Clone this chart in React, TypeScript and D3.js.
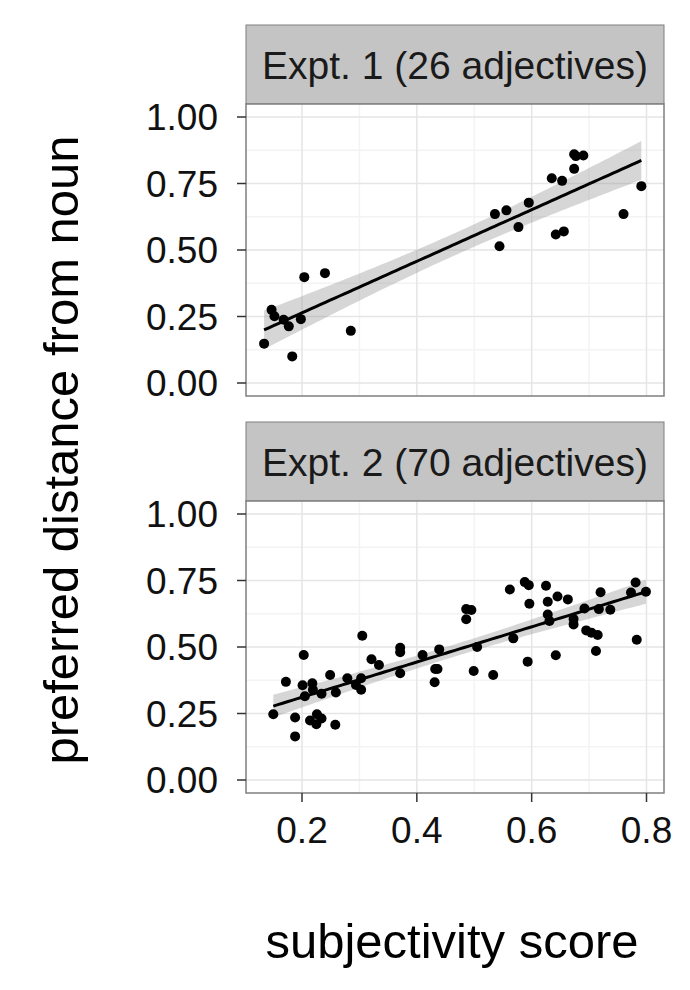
import React from 'react';
import * as d3 from 'd3';

type Pt = [number, number];

const panelTitles = ['Expt. 1 (26 adjectives)', 'Expt. 2 (70 adjectives)'];

const expt1: Pt[] = [
  [0.134, 0.148], [0.147, 0.275], [0.152, 0.251], [0.168, 0.238], [0.177, 0.213],
  [0.183, 0.1], [0.198, 0.24], [0.204, 0.398], [0.24, 0.413], [0.285, 0.196],
  [0.536, 0.635], [0.544, 0.514], [0.556, 0.649], [0.577, 0.586], [0.595, 0.678],
  [0.635, 0.77], [0.642, 0.558], [0.653, 0.76], [0.656, 0.57], [0.674, 0.86],
  [0.674, 0.805], [0.677, 0.853], [0.69, 0.855], [0.76, 0.635], [0.791, 0.74],
];

const expt2: Pt[] = [
  [0.15, 0.2475], [0.172, 0.369], [0.188, 0.235], [0.188, 0.164], [0.203, 0.47],
  [0.201, 0.356], [0.205, 0.315], [0.218, 0.364], [0.219, 0.339], [0.214, 0.224],
  [0.226, 0.2475], [0.225, 0.21], [0.234, 0.231], [0.234, 0.324], [0.249, 0.395],
  [0.259, 0.329], [0.279, 0.3825], [0.294, 0.3575], [0.303, 0.3825], [0.303, 0.339],
  [0.258, 0.2075], [0.305, 0.5425], [0.321, 0.454], [0.334, 0.4325], [0.371, 0.4975],
  [0.371, 0.48], [0.371, 0.401], [0.41, 0.47], [0.432, 0.4175], [0.436, 0.4175],
  [0.431, 0.3675], [0.439, 0.491], [0.486, 0.6425], [0.495, 0.639], [0.486, 0.604],
  [0.499, 0.41], [0.505, 0.5], [0.533, 0.395], [0.562, 0.716], [0.568, 0.5325],
  [0.588, 0.744], [0.595, 0.7325], [0.596, 0.6625], [0.593, 0.445], [0.625, 0.73],
  [0.628, 0.67], [0.628, 0.6225], [0.631, 0.5975], [0.642, 0.469], [0.645, 0.69],
  [0.663, 0.679], [0.673, 0.605], [0.673, 0.585], [0.692, 0.645], [0.695, 0.5625],
  [0.704, 0.554], [0.715, 0.545], [0.712, 0.485], [0.717, 0.6425], [0.72, 0.706],
  [0.737, 0.64], [0.773, 0.705], [0.781, 0.7425], [0.783, 0.5275], [0.799, 0.7075],
];

const xTicks = [0.2, 0.4, 0.6, 0.8];
const yTicks = [0, 0.25, 0.5, 0.75, 1];

const FONT = '"Liberation Sans", Arial, sans-serif';

function fit(data: Pt[]) {
  const n = data.length;
  const mx = d3.mean(data, d => d[0])!;
  const my = d3.mean(data, d => d[1])!;
  const sxx = d3.sum(data, d => (d[0] - mx) ** 2);
  const sxy = d3.sum(data, d => (d[0] - mx) * (d[1] - my));
  const b = sxy / sxx;
  const a = my - b * mx;
  const sse = d3.sum(data, d => (d[1] - a - b * d[0]) ** 2);
  const s = Math.sqrt(sse / (n - 2));
  const t = 2.06;
  const [x0, x1] = d3.extent(data, d => d[0]) as [number, number];
  const xs = d3.range(0, 81).map(i => x0 + ((x1 - x0) * i) / 80);
  return xs.map(x => {
    const y = a + b * x;
    const se = s * Math.sqrt(1 / n + (x - mx) ** 2 / sxx);
    return { x, y, lo: y - t * se, hi: y + t * se };
  });
}

const left = 246, right = 664;
const x = d3.scaleLinear().domain([0.2, 0.8]).range([302, 646.5]);

const Panel: React.FC<{ data: Pt[]; title: string; top: number; showX: boolean }> = ({ data, title, top, showX }) => {
  const stripH = 79;
  const pTop = top + stripH;
  const pBot = pTop + 292;
  const y = d3.scaleLinear().domain([0, 1]).range([pTop + 279, pTop + 13]);
  const f = fit(data);
  const area = d3.area<any>().x(d => x(d.x)).y0(d => y(d.lo)).y1(d => y(d.hi));
  const line = d3.line<any>().x(d => x(d.x)).y(d => y(d.y));
  const minorX = [0.1, 0.3, 0.5, 0.7];
  const minorY = [0.125, 0.375, 0.625, 0.875];
  return (
    <g>
      <rect x={left} y={top} width={right - left} height={stripH} fill="#c4c4c4" stroke="#7f7f7f" strokeWidth={1} />
      <text x={(left + right) / 2} y={top + stripH / 2 + 14} textAnchor="middle" fontSize={39} fontFamily={FONT} fill="#1a1a1a">{title}</text>
      <rect x={left} y={pTop} width={right - left} height={pBot - pTop} fill="#fff" />
      {minorX.map(v => x(v) > left && <line key={'mx' + v} x1={x(v)} x2={x(v)} y1={pTop} y2={pBot} stroke="#f3f3f3" strokeWidth={1.5} />)}
      {minorY.map(v => <line key={'my' + v} x1={left} x2={right} y1={y(v)} y2={y(v)} stroke="#f3f3f3" strokeWidth={1.5} />)}
      {xTicks.map(v => <line key={'gx' + v} x1={x(v)} x2={x(v)} y1={pTop} y2={pBot} stroke="#e5e5e5" strokeWidth={1.5} />)}
      {yTicks.map(v => <line key={'gy' + v} x1={left} x2={right} y1={y(v)} y2={y(v)} stroke="#e5e5e5" strokeWidth={1.5} />)}
      <path d={area(f)!} fill="#999" fillOpacity={0.4} />
      <path d={line(f)!} fill="none" stroke="#000" strokeWidth={3} />
      {data.map((d, i) => <circle key={i} cx={x(d[0])} cy={y(d[1])} r={5} fill="#000" />)}
      <rect x={left} y={pTop} width={right - left} height={pBot - pTop} fill="none" stroke="#7f7f7f" strokeWidth={1.5} />
      {yTicks.map(v => (
        <g key={'ty' + v}>
          <line x1={left - 9} x2={left} y1={y(v)} y2={y(v)} stroke="#333" strokeWidth={1.5} />
          <text x={left - 28} y={y(v) + 13} textAnchor="end" fontSize={37} fontFamily={FONT} fill="#111">{v.toFixed(2)}</text>
        </g>
      ))}
      {showX && xTicks.map(v => (
        <g key={'tx' + v}>
          <line x1={x(v)} x2={x(v)} y1={pBot} y2={pBot + 9} stroke="#333" strokeWidth={1.5} />
          <text x={x(v)} y={pBot + 50} textAnchor="middle" fontSize={37} fontFamily={FONT} fill="#111">{v.toFixed(1)}</text>
        </g>
      ))}
    </g>
  );
};

export default function App() {
  return (
    <svg width={690} height={990} style={{ position: 'absolute', left: 0, top: 0, background: '#fff' }}>
      <rect width={690} height={990} fill="#fff" />
      <Panel data={expt1} title={panelTitles[0]} top={25} showX={false} />
      <Panel data={expt2} title={panelTitles[1]} top={422} showX={true} />
      <text x={452} y={958} textAnchor="middle" fontSize={49} fontFamily={FONT} fill="#000">subjectivity score</text>
      <text transform="translate(78,450) rotate(-90)" textAnchor="middle" fontSize={49} fontFamily={FONT} fill="#000">preferred distance from noun</text>
    </svg>
  );
}
